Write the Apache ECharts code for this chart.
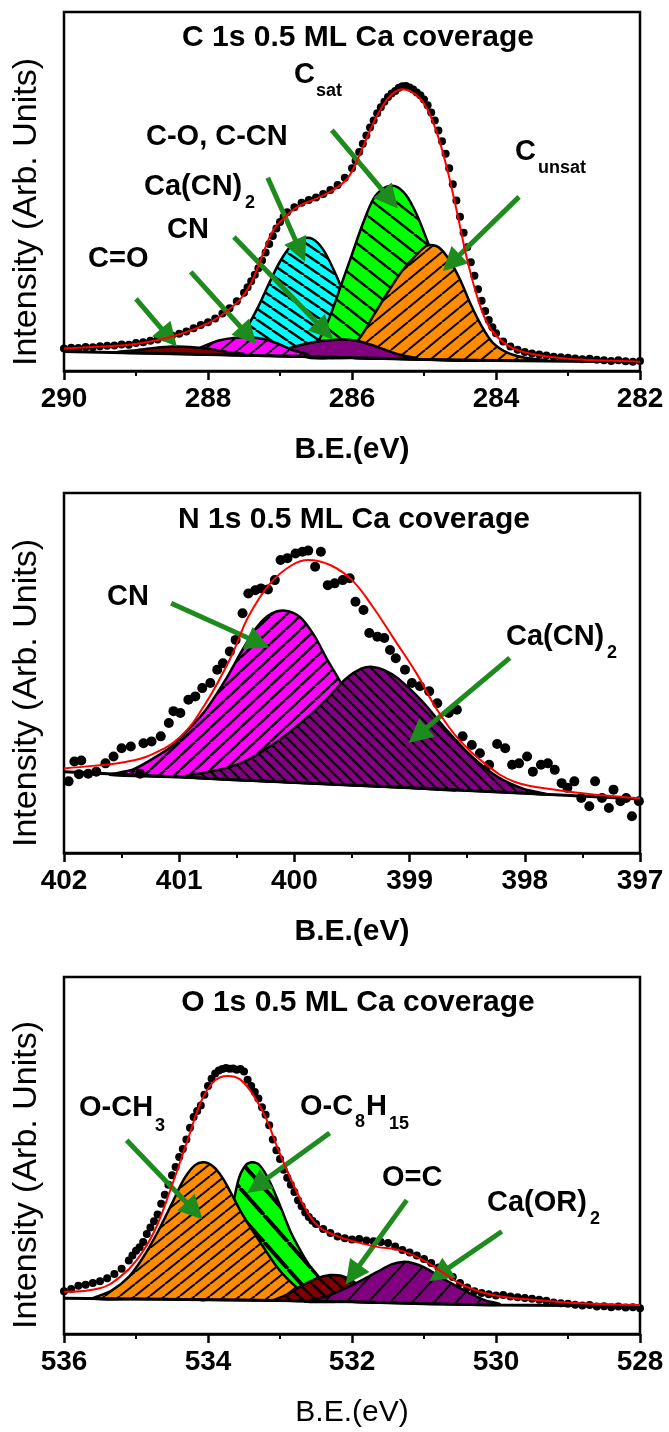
<!DOCTYPE html>
<html><head><meta charset="utf-8">
<script src="https://cdn.jsdelivr.net/npm/echarts@6/dist/echarts.min.js"></script>
<style>html,body{margin:0;padding:0;background:#fff}#c{width:669px;height:1432px}</style>
</head><body><div id="c"></div>
<script>
// ---------------- C 1s panel ----------------
const c1sData = [[290.0,6.3],[289.9,6.5],[289.8,6.4],[289.7,6.7],[289.6,6.6],[289.5,6.9],[289.4,7.0],[289.3,7.1],[289.2,7.4],[289.1,7.3],[289.0,7.8],[288.9,8.0],[288.8,8.4],[288.7,8.8],[288.6,9.3],[288.5,9.9],[288.4,10.4],[288.3,11.0],[288.2,11.9],[288.1,12.8],[288.0,13.6],[287.9,14.6],[287.8,16.0],[287.7,17.5],[287.6,19.4],[287.5,21.8],[287.45,23.3],[287.4,25.0],[287.35,26.8],[287.3,28.6],[287.25,30.8],[287.2,33.0],[287.15,35.4],[287.1,37.6],[287.05,39.7],[287.0,41.5],[286.95,43.0],[286.9,44.2],[286.8,45.6],[286.7,46.9],[286.6,47.6],[286.5,48.3],[286.4,49.3],[286.3,50.4],[286.2,51.8],[286.1,53.8],[286.0,56.5],[285.95,58.6],[285.9,61.0],[285.85,63.3],[285.8,65.6],[285.75,67.8],[285.7,69.8],[285.65,71.8],[285.6,73.5],[285.55,75.0],[285.5,76.3],[285.45,77.3],[285.4,78.0],[285.35,78.9],[285.3,79.3],[285.25,79.4],[285.2,79.0],[285.15,78.4],[285.1,77.6],[285.05,76.8],[285.0,75.6],[284.95,74.0],[284.9,72.0],[284.85,69.8],[284.8,67.0],[284.75,64.0],[284.7,60.5],[284.65,56.5],[284.6,52.0],[284.55,47.5],[284.5,43.0],[284.45,38.5],[284.4,34.5],[284.35,30.3],[284.3,26.5],[284.25,22.8],[284.2,19.6],[284.15,16.7],[284.1,14.2],[284.05,12.2],[284.0,10.5],[283.9,8.2],[283.8,6.8],[283.7,5.9],[283.6,5.3],[283.5,4.9],[283.4,4.6],[283.3,4.3],[283.2,4.0],[283.1,3.8],[283.0,3.7],[282.9,3.5],[282.8,3.3],[282.7,3.4],[282.6,3.1],[282.5,3.0],[282.4,2.8],[282.3,3.0],[282.2,2.7],[282.1,2.6],[282.0,2.8]];
const c1sFit = [[290.0,6.3],[289.5,6.8],[289.1,7.3],[288.8,8.2],[288.5,9.6],[288.2,11.6],[287.95,13.8],[287.75,16.5],[287.55,20],[287.4,24.5],[287.25,32],[287.1,39],[286.95,42.5],[286.75,45.8],[286.5,48],[286.25,50.5],[286.05,54],[285.9,60],[285.75,67],[285.6,73],[285.45,77],[285.3,78.5],[285.15,77.5],[285.0,74.5],[284.85,68],[284.7,58],[284.55,45],[284.4,31],[284.25,20],[284.1,12.5],[283.9,8],[283.7,5.8],[283.4,4.4],[283.0,3.4],[282.5,2.9],[282.0,2.6]];
const c1sBackground = [[290,5.4],[289,5.0],[288,4.6],[287,4.2],[286,3.7],[285,3.2],[284,2.9],[283,2.7],[282,2.6]];
const c1sPeakCOCN = [[287.9,4.7],[287.75,6.0],[287.6,8.5],[287.45,12.5],[287.3,18.0],[287.15,24.5],[287.0,30.5],[286.85,34.8],[286.7,36.8],[286.55,36.8],[286.4,33.8],[286.25,28.0],[286.1,21.0],[285.95,14.0],[285.8,8.5],[285.65,5.5],[285.45,3.5]];
const c1sPeakSat = [[286.65,4.0],[286.45,9.0],[286.3,15.5],[286.15,24.0],[286.0,32.5],[285.85,41.0],[285.7,48.0],[285.55,51.0],[285.4,51.5],[285.25,49.0],[285.1,43.5],[284.95,36.0],[284.8,28.0],[284.65,20.0],[284.5,12.5],[284.35,7.0],[284.15,3.2]];
const c1sPeakUnsat = [[286.3,3.7],[286.1,5.5],[285.9,9.0],[285.7,15.5],[285.5,22.0],[285.3,28.0],[285.1,32.5],[284.95,35.0],[284.8,34.5],[284.65,31.0],[284.5,25.5],[284.35,18.5],[284.2,12.5],[284.05,8.0],[283.85,5.2],[283.6,3.7],[283.3,3.0]];
const c1sPeakCaCN = [[287.4,4.4],[287.15,5.0],[286.9,6.2],[286.65,7.5],[286.4,8.4],[286.15,8.8],[285.95,8.5],[285.75,7.4],[285.55,6.0],[285.35,4.6],[285.1,3.5]];
const c1sPeakCN = [[288.25,4.9],[288.05,7.0],[287.85,8.5],[287.65,9.2],[287.45,9.4],[287.25,9.0],[287.05,7.8],[286.85,6.0],[286.6,4.4]];
const c1sPeakCO = [[289.3,5.2],[289.0,5.8],[288.75,6.4],[288.5,6.8],[288.25,6.7],[288.0,6.2],[287.75,5.4],[287.5,4.7]];
const c1sArrows = [[[289.0,20.1],[288.54,9.3]],[[288.24,27.6],[287.44,9.9]],[[287.64,37.3],[286.38,11.2]],[[287.17,53.8],[286.72,33.5]],[[286.28,67.1],[285.47,47.8]],[[283.68,48.5],[284.62,30.1]]];

// ---------------- N 1s panel ----------------
const n1sData = [[401.96,19.9],[401.91,25.4],[401.87,21.9],[401.85,25.7],[401.79,22.0],[401.72,22.6],[401.64,24.9],[401.57,26.8],[401.5,29.1],[401.42,29.6],[401.34,22.0],[401.31,30.5],[401.24,31.0],[401.16,32.4],[401.09,36.1],[401.05,39.4],[400.99,38.9],[400.92,42.6],[400.86,43.5],[400.8,45.8],[400.73,47.2],[400.67,50.9],[400.62,52.7],[400.56,56.0],[400.51,59.2],[400.45,66.6],[400.4,72.1],[400.34,73.0],[400.29,73.5],[400.23,73.2],[400.17,75.8],[400.12,81.4],[400.06,81.9],[399.99,83.2],[399.93,83.7],[399.88,84.0],[399.82,79.5],[399.77,83.7],[399.71,74.4],[399.65,74.9],[399.58,75.8],[399.52,76.3],[399.47,69.8],[399.4,67.5],[399.35,61.1],[399.28,60.1],[399.22,59.7],[399.17,56.4],[399.12,54.1],[399.04,50.9],[398.98,47.2],[398.91,46.3],[398.83,44.9],[398.76,41.6],[398.66,38.9],[398.59,39.8],[398.54,32.4],[398.46,30.0],[398.39,27.7],[398.31,24.5],[398.24,30.3],[398.17,29.1],[398.11,24.5],[398.05,24.9],[397.98,26.8],[397.93,22.6],[397.86,24.5],[397.8,24.9],[397.74,23.1],[397.68,19.4],[397.63,18.1],[397.57,19.9],[397.51,15.3],[397.44,13.0],[397.39,19.9],[397.33,15.3],[397.27,12.5],[397.23,17.6],[397.17,14.4],[397.12,15.3],[397.07,10.2],[397.01,14.4]];
const n1sFit = [[402,23.5],[401.75,24.2],[401.48,25.2],[401.25,27.2],[400.99,32.3],[400.77,41.6],[400.55,54.5],[400.4,65.6],[400.21,74.9],[400.02,80.0],[399.88,81.4],[399.69,80.0],[399.5,75.8],[399.32,68.4],[399.13,59.2],[398.94,49.9],[398.76,39.7],[398.57,31.4],[398.35,24.9],[398.09,19.8],[397.72,17.5],[397.35,16.1],[397.0,15.2]];
const n1sBackground = [[402,22.6],[401,21.1],[400,19.6],[399,18.1],[398,16.6],[397,15.0]];
const n1sPeakCN = [[401.6,21.7],[401.4,23.2],[401.25,25.8],[401.07,29.5],[400.9,35.0],[400.77,39.7],[400.6,48.0],[400.45,56.5],[400.32,63.0],[400.2,66.5],[400.08,67.3],[399.95,65.5],[399.83,60.5],[399.72,54.0],[399.6,47.5],[399.45,39.0],[399.3,31.5],[399.15,25.5],[399.0,21.5],[398.8,18.8],[398.6,17.4]];
const n1sPeakCaCN = [[400.95,21.2],[400.7,22.8],[400.47,24.9],[400.17,30.5],[399.88,37.9],[399.7,43.5],[399.55,48.5],[399.42,51.2],[399.32,51.7],[399.22,50.8],[399.1,48.5],[398.9,42.5],[398.68,34.2],[398.46,26.8],[398.24,21.2],[398.01,17.8],[397.8,16.3]];
const n1sArrows = [[[401.07,69.4],[400.31,58.4]],[[398.13,54.2],[398.93,32.7]]];

// ---------------- O 1s panel ----------------
const o1sData = [[536.0,12.0],[535.9,12.6],[535.8,13.5],[535.7,13.8],[535.6,14.3],[535.5,14.8],[535.4,15.6],[535.3,16.8],[535.2,18.3],[535.1,20.6],[535.05,22.0],[535.0,23.3],[534.95,24.3],[534.9,25.8],[534.85,28.0],[534.8,29.8],[534.75,31.6],[534.7,33.5],[534.65,36.5],[534.6,39.0],[534.55,41.8],[534.5,44.5],[534.45,46.8],[534.4,49.6],[534.35,51.8],[534.3,54.5],[534.25,57.8],[534.2,60.8],[534.15,62.5],[534.1,64.0],[534.05,67.0],[534.0,69.5],[533.95,71.5],[533.9,73.0],[533.85,73.8],[533.8,74.2],[533.75,74.5],[533.7,74.3],[533.65,74.4],[533.6,74.0],[533.55,74.2],[533.5,73.5],[533.45,71.2],[533.4,69.5],[533.35,67.8],[533.3,66.0],[533.25,63.5],[533.2,61.4],[533.15,58.5],[533.1,54.5],[533.05,51.5],[533.0,49.0],[532.95,46.0],[532.9,43.8],[532.85,41.8],[532.8,39.8],[532.75,37.5],[532.7,35.8],[532.65,34.0],[532.6,32.8],[532.55,31.7],[532.5,30.8],[532.4,29.4],[532.3,28.3],[532.2,27.3],[532.1,26.8],[532.0,26.5],[531.9,26.6],[531.8,26.2],[531.7,26.0],[531.6,25.8],[531.5,25.5],[531.4,24.5],[531.3,23.5],[531.2,22.8],[531.1,22.0],[531.0,21.0],[530.9,19.9],[530.8,18.6],[530.7,17.4],[530.6,16.0],[530.5,14.3],[530.4,13.0],[530.3,12.0],[530.2,11.5],[530.1,11.1],[530.0,10.8],[529.9,10.9],[529.8,10.5],[529.7,10.3],[529.6,10.1],[529.5,9.9],[529.4,9.6],[529.3,9.3],[529.2,8.8],[529.1,8.6],[529.0,8.5],[528.9,8.2],[528.8,8.0],[528.7,8.1],[528.6,7.7],[528.5,7.8],[528.4,7.5],[528.3,7.7],[528.2,7.4],[528.1,7.5],[528.0,7.2]];
const o1sFit = [[536.0,11.8],[535.5,12.8],[535.22,16],[534.99,20.7],[534.74,29],[534.51,41.1],[534.27,55.1],[534.09,65.4],[533.91,70.9],[533.73,72.3],[533.56,71.4],[533.38,67.2],[533.2,60.7],[533.02,51.4],[532.84,43],[532.66,35.6],[532.48,30.4],[532.24,27.7],[531.95,25.8],[531.65,24.4],[531.35,23.5],[531.05,21.1],[530.75,17.4],[530.46,13.7],[530.04,10.9],[529.44,9.5],[528.85,8.6],[528.0,8.1]];
const o1sBackground = [[536,10.0],[535,9.8],[534,9.6],[533,9.4],[532,9.0],[531,8.5],[530,8.1],[529,8.0],[528,7.9]];
const o1sPeakOC8H15 = [[534.1,9.6],[533.95,12.5],[533.8,20],[533.68,33],[533.58,43],[533.48,47.2],[533.38,48.1],[533.28,47.2],[533.15,43.0],[533.0,36.0],[532.85,28.5],[532.72,23.5],[532.6,19.5],[532.48,16.5],[532.38,13.5],[532.25,10.5],[532.1,9.1]];
const o1sPeakOCH3 = [[535.6,9.9],[535.35,12.0],[535.1,16.0],[534.9,21.5],[534.7,28.5],[534.5,36.6],[534.33,43.5],[534.18,47.3],[534.05,48.1],[533.92,46.8],[533.8,43.8],[533.68,39.5],[533.55,34.5],[533.4,29.5],[533.22,24.0],[533.05,19.0],[532.9,15.5],[532.75,12.8],[532.6,11.0],[532.45,9.8],[532.3,9.3]];
const o1sPeakOC = [[533.1,9.4],[532.9,11.0],[532.7,13.5],[532.5,15.5],[532.3,16.5],[532.15,16.3],[532.0,15.0],[531.85,12.5],[531.7,10.3],[531.5,8.8]];
const o1sPeakCaOR = [[532.65,9.1],[532.36,10.5],[532.0,13.7],[531.65,17.4],[531.45,19.5],[531.29,20.2],[531.15,19.8],[530.99,18.6],[530.7,15.1],[530.4,11.8],[530.16,9.5],[529.95,8.4]];
const o1sArrows = [[[535.13,54.3],[534.19,34.5]],[[532.31,56.3],[533.32,41.5]],[[531.24,37.5],[531.99,16.6]],[[529.92,28.7],[530.79,16.7]]];

const xTicks = [{min:282,max:290,interval:2},{min:397,max:402,interval:1},{min:528,max:536,interval:2}];

// ---------------- helpers ----------------
const FONT = '"Liberation Sans", Arial, Helvetica, sans-serif';
function hatch(bg, dir, W, H, lw) {
  const c = document.createElement('canvas'); c.width = W; c.height = H;
  const g = c.getContext('2d'); g.fillStyle = bg; g.fillRect(0, 0, W, H);
  if (dir) {
    g.strokeStyle = '#000'; g.lineWidth = lw; g.beginPath();
    for (let k = -1; k <= 1; k++) {
      if (dir === '/') { g.moveTo(k * W, H); g.lineTo(k * W + W, 0); }
      else { g.moveTo(k * W, 0); g.lineTo(k * W + W, H); }
    }
    g.stroke();
  }
  return { image: c, repeat: 'repeat' };
}
function peakSeries(gi, pts, base, fill) {
  return {
    type: 'custom', xAxisIndex: gi, yAxisIndex: gi, silent: true, z: 2,
    data: [[pts[0][0], pts[0][1]]],
    renderItem: function (params, api) {
      const x0 = pts[0][0], x1 = pts[pts.length - 1][0];
      const top = pts.map(p => api.coord(p));
      const bottom = base.filter(b => b[0] < x0 && b[0] > x1).reverse().map(b => api.coord(b));
      return { type: 'polygon', shape: { points: top.concat(bottom), smooth: 0.3 },
        style: { fill: fill, stroke: '#000', lineWidth: 2.5, lineJoin: 'round' } };
    }
  };
}
function mkX(i, t, boldName) {
  return { gridIndex: i, type: 'value', inverse: true, min: t.min, max: t.max, interval: t.interval,
    name: 'B.E.(eV)', nameLocation: 'middle', nameGap: 64,
    nameTextStyle: { fontSize: 30, fontWeight: boldName ? 'bold' : 'normal', fontFamily: FONT, color: '#000' },
    axisLine: { show: true, onZero: false, lineStyle: { color: '#000', width: 2.5 } },
    axisTick: { show: true, inside: false, length: 9, lineStyle: { color: '#000', width: 2.5 } },
    minorTick: { show: true, splitNumber: 2, length: 5, lineStyle: { color: '#000', width: 2 } },
    axisLabel: { fontSize: 28, fontWeight: 'bold', fontFamily: FONT, color: '#000', margin: 14 },
    splitLine: { show: false }, minorSplitLine: { show: false } };
}
function panelSeries(gi, data, fit, base, peaks, arrows, dotSize) {
  const s = peaks.map(p => peakSeries(gi, p[0], base, p[1]));
  s.push({ type: 'line', xAxisIndex: gi, yAxisIndex: gi, data: base, symbol: 'none', silent: true,
    lineStyle: { color: '#000', width: 3 }, z: 3 });
  s.push({ type: 'scatter', xAxisIndex: gi, yAxisIndex: gi, data: data, symbol: 'circle', symbolSize: dotSize,
    itemStyle: { color: '#000', opacity: 1 }, silent: true, z: 4 });
  s.push({ type: 'line', xAxisIndex: gi, yAxisIndex: gi, data: fit, symbol: 'none', smooth: 0.4, silent: true,
    lineStyle: { color: '#ff0000', width: 2 }, z: 5,
    markLine: { silent: true, symbol: ['none', 'triangle'], symbolSize: 24, label: { show: false },
      lineStyle: { color: '#1e8b1e', width: 5, type: 'solid', opacity: 1 }, emphasis: { disabled: true },
      data: arrows.map(a => [{ coord: a[0] }, { coord: a[1] }]) } });
  return s;
}
function txt(x, y, text, size, weight, align) {
  return { type: 'text', x: x, y: y, z: 100, silent: true,
    style: { text: text, fill: '#000', font: (weight || 'bold') + ' ' + size + 'px ' + FONT,
      textAlign: align || 'left', textVerticalAlign: 'middle', align: align || 'left', verticalAlign: 'middle' } };
}
function ylab(y) {
  return { type: 'text', x: 27, y: y, rotation: Math.PI / 2, z: 100, silent: true,
    style: { text: 'Intensity (Arb. Units)', fill: '#000', font: 'normal 34px ' + FONT,
      textAlign: 'center', textVerticalAlign: 'middle', align: 'center', verticalAlign: 'middle' } };
}

const P = {
  cyan: hatch('#00ffff', '\\', 16, 11, 2.5), green1: hatch('#00ff00', '\\', 23, 18, 2.5),
  orange1: hatch('#ff8c00', '/', 17, 14, 2), purple1: hatch('#800080', null, 4, 4, 0),
  magenta1: hatch('#ff00ff', '/', 17, 14, 2), darkred1: hatch('#800000', null, 4, 4, 0),
  magenta2: hatch('#ff00ff', '/', 15, 14, 2.5), purple2: hatch('#800080', '\\', 11, 11, 2),
  orange3: hatch('#ff8c00', '/', 15, 12, 2), green3: hatch('#00ff00', '\\', 24, 27, 4),
  darkred3: hatch('#800000', '\\', 13, 12, 2.5), purple3: hatch('#800080', '/', 22, 24, 2)
};

const series = [].concat(
  panelSeries(0, c1sData, c1sFit, c1sBackground,
    [[c1sPeakCOCN, P.cyan], [c1sPeakSat, P.green1], [c1sPeakUnsat, P.orange1], [c1sPeakCaCN, P.purple1], [c1sPeakCN, P.magenta1], [c1sPeakCO, P.darkred1]],
    c1sArrows, 8),
  panelSeries(1, n1sData, n1sFit, n1sBackground,
    [[n1sPeakCN, P.magenta2], [n1sPeakCaCN, P.purple2]], n1sArrows, 10),
  panelSeries(2, o1sData, o1sFit, o1sBackground,
    [[o1sPeakOC8H15, P.green3], [o1sPeakOCH3, P.orange3], [o1sPeakOC, P.darkred3], [o1sPeakCaOR, P.purple3]], o1sArrows, 8)
);

const gridBase = { left: 64, width: 576, show: true, borderColor: '#000', borderWidth: 2.5, backgroundColor: 'transparent', containLabel: false, outerBoundsMode: 'none' };
const option = {
  animation: false, backgroundColor: '#ffffff',
  grid: [Object.assign({ top: 12, height: 359 }, gridBase), Object.assign({ top: 493, height: 360 }, gridBase), Object.assign({ top: 977, height: 357 }, gridBase)],
  xAxis: [mkX(0, xTicks[0], true), mkX(1, xTicks[1], true), mkX(2, xTicks[2], false)],
  yAxis: [0, 1, 2].map(i => ({ gridIndex: i, type: 'value', min: 0, max: 100, show: false })),
  series: series,
  graphic: { elements: [
    txt(358, 38, 'C 1s 0.5 ML Ca coverage', 30, 'bold', 'center'),
    txt(354, 520, 'N 1s 0.5 ML Ca coverage', 30, 'bold', 'center'),
    txt(358, 1003, 'O 1s 0.5 ML Ca coverage', 30, 'bold', 'center'),
    ylab(212), ylab(693), ylab(1175),
    txt(88, 259, 'C=O', 29), txt(167, 230, 'CN', 29), txt(144, 187, 'Ca(CN)', 29), txt(245, 203, '2', 18),
    txt(146, 137, 'C-O, C-CN', 29), txt(294, 75, 'C', 29), txt(316, 91, 'sat', 18),
    txt(515, 152, 'C', 29), txt(538, 168, 'unsat', 18),
    txt(107, 597, 'CN', 29), txt(506, 637, 'Ca(CN)', 29), txt(607, 653, '2', 18),
    txt(79, 1108, 'O-CH', 29), txt(155, 1126, '3', 18),
    txt(300, 1107, 'O-C', 29), txt(355, 1122, '8', 18), txt(366, 1107, 'H', 29), txt(389, 1124, '15', 18),
    txt(382, 1178, 'O=C', 29), txt(487, 1203, 'Ca(OR)', 29), txt(590, 1219, '2', 18)
  ] }
};
const chart = echarts.init(document.getElementById('c'), null, { renderer: 'canvas', width: 669, height: 1432 });
chart.setOption(option);
</script></body></html>
